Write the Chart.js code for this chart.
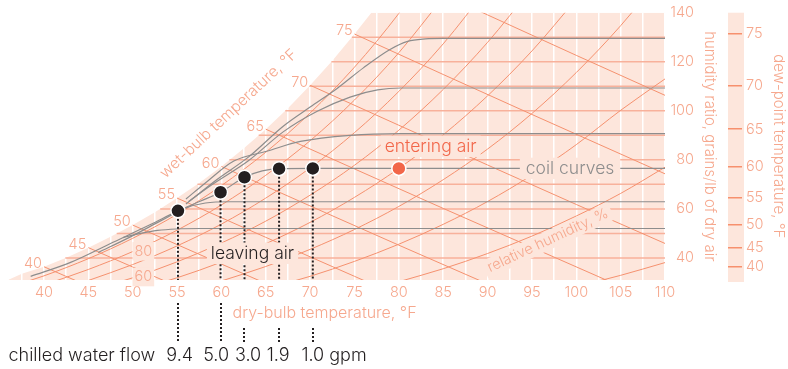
<!DOCTYPE html>
<html><head><meta charset="utf-8">
<script src="https://cdn.jsdelivr.net/npm/chart.js@4.4.1/dist/chart.umd.min.js"></script>
<style>html,body{margin:0;padding:0;background:#fff}#wrap{width:788px;height:369px;position:relative}</style>
</head><body><div id="wrap"><canvas id="c"></canvas></div>
<script>
// ---------------- data ----------------
const dryBulbGrid = [37.5,40,42.5,45,47.5,50,52.5,55,57.5,60,62.5,65,67.5,70,72.5,75,77.5,80,82.5,85,87.5,90,92.5,95,97.5,100,102.5,105,107.5,110];
const humidityTicks = [40,60,80,100,120,140];
const dewPointLabels = [40,45,50,55,60,65,70,75];
const dewPointHumidity = [36.4,44.2,53.4,64.4,77.3,92.5,110.4,131.3];
const wetBulbLabels = [40,45,50,55,60,65,70,75];

const saturationT = [36,37.5,40,42.5,45,47.5,50,52.5,55,57.5,60,62.5,65,67.5,70,72.5,75,76.9];
const saturationW = [31.1,33.5,36.4,40.1,44.2,48.6,53.4,58.6,64.4,70.6,77.3,84.6,92.5,101.0,110.4,120.4,131.3,140];

const rhTemps = [36,40,45,50,55,60,65,70,75,80,85,90,95,100,105,110];
const rh90 = [28.0,32.7,39.7,48.0,57.8,69.5,83.1,99.1,117.8,139.7,165.1,null,null,null,null,null];
const rh80 = [null,29.0,35.3,42.6,51.3,61.6,73.7,87.8,104.4,123.7,146.2,null,null,null,null,null];
const rh70 = [null,null,30.8,37.3,44.9,53.8,64.4,76.7,91.1,107.9,127.3,150.0,null,null,null,null];
const rh60 = [null,null,26.4,31.9,38.4,46.1,55.0,65.6,77.8,92.1,108.7,127.9,150.1,null,null,null];
const rh50 = [null,null,null,26.5,31.9,38.3,45.8,54.5,64.7,76.5,90.2,106.1,124.4,145.5,null,null];
const rh40 = [null,null,null,null,null,30.6,36.5,43.5,51.6,61.0,71.9,84.4,98.9,115.6,134.7,156.7];
const rh30 = [null,null,null,null,null,null,27.4,32.5,38.6,45.6,53.7,63.0,73.8,86.2,100.2,113.0];
const rh20 = [null,null,null,null,null,null,null,null,null,30.3,35.6,41.8,48.9,57.1,66.3,77.0];
const rh10 = [null,null,null,null,null,null,null,null,null,null,null,null,null,28.3,32.9,38.1];

const wetBulb40 = [[40,36.4],[44,30.1]];
const wetBulb45 = [[45,44.2],[50,36.3],[55,28.4]];
const wetBulb50 = [[50,53.4],[60,37.5],[65,29.6]];
const wetBulb55 = [[55,64.4],[65,48.4],[75,32.5],[77,29.3]];
const wetBulb60 = [[60,77.3],[70,61.2],[80,45.2],[90,29.4]];
const wetBulb65 = [[65,92.5],[75,76.3],[85,60.2],[95,44.3],[105,28.4]];
const wetBulb70 = [[70,110.4],[80,94.1],[90,77.9],[100,61.8],[110,45.9]];
const wetBulb75 = [[75,131.3],[85,114.8],[95,98.5],[110,74.3]];
const wetBulb80 = [[80,155.7],[90,139.1],[100,122.6],[110,106.3]];

const gridW = [40,50,60,70,80,90,100,110,120,130];
const gridStartT = [42.4,48.2,53.1,57.3,60.9,64.2,67.2,69.9,72.4,74.7];

const coil1 = [[48.9,48.3],[50.9,50.0],[52.8,51.2],[54.9,51.8],[57.7,52.0],[110,52.0]];
const coil2 = [[46.1,42.2],[49.8,48.7],[53.2,55.2],[56.0,60.4],[58.2,62.4],[61.0,62.9],[110,62.9]];
const coil4 = [[38.5,32.5],[43.0,38.2],[47.5,45.9],[52.0,53.6],[55.1,59.2],[57.6,63.1],[59.9,66.8],[62.6,72.9],[64.6,75.5],[66.5,76.4],[70.3,76.5],[110,76.5]];
const coil5 = [[56.0,64.0],[58.5,71.5],[61.4,79.5],[65.2,83.6],[68.9,87.5],[74.5,90.0],[80.2,90.7],[110,90.7]];
const coil6 = [[56.3,63.0],[59.0,70.0],[63.0,79.5],[67.0,91.5],[70.8,99.8],[74.5,105.6],[77.6,108.5],[80.2,109.3],[110,109.3]];
const coil7 = [[56.0,62.0],[59.5,72.0],[63.0,81.0],[67.0,93.8],[70.0,101.5],[73.0,109.0],[76.0,117.5],[79.0,125.0],[81.0,128.3],[83.0,129.3],[85.0,129.5],[110,129.5]];

const leavingT = [55.1,59.9,62.6,66.5,70.3];
const leavingW = [59.2,66.8,72.9,76.4,76.5];
const flowLabels = ['9.4','5.0','3.0','1.9','1.0'];
const flowLabelT = [55.3,59.4,63.0,66.4,70.3];
const enteringT = [80.0];
const enteringW = [76.5];

// ---------------- style ----------------
const PINK='#fde6dc', SALMON='#f5916f', HLINE='#f8b19b', TXT='#f6a88e', GRAY='#8d8d8d', INK='#231f20', ORANGE='#f26649';
const FF = 'Inter, Roboto, "Liberation Sans", Arial, sans-serif';
const XMIN=36, XMAX=110, YMIN=31, YMAX=140;

const pairs = a => a.map(([x,y]) => ({x,y}));
const rhPts = v => rhTemps.map((t,i) => v[i]==null ? null : {x:t,y:v[i]}).filter(Boolean);
const lineDs = (data, color, width, extra={}) => Object.assign({data, showLine:true, borderColor:color, borderWidth:width, pointRadius:0, fill:false, tension:0}, extra);

const datasets = [];
datasets.push({data: leavingT.map((t,i)=>({x:t,y:leavingW[i]})), showLine:false, pointRadius:7, pointBackgroundColor:INK, pointBorderColor:'#fff', pointBorderWidth:1.5, order:0});
datasets.push({data: enteringT.map((t,i)=>({x:t,y:enteringW[i]})), showLine:false, pointRadius:7, pointBackgroundColor:ORANGE, pointBorderColor:'#fff', pointBorderWidth:1.5, order:0});
leavingT.forEach((t,i)=> datasets.push(lineDs([{x:t,y:leavingW[i]},{x:t,y:YMIN}], INK, 2, {borderDash:[2,2], order:1})));
[coil1,coil2,coil4,coil5,coil6,coil7].forEach(c => datasets.push(lineDs(pairs(c), GRAY, 1.2, {cubicInterpolationMode:'monotone', order:2})));
[rh90,rh80,rh70,rh60,rh50,rh40,rh30,rh20,rh10].forEach(r => datasets.push(lineDs(rhPts(r), SALMON, 1, {cubicInterpolationMode:'monotone', order:3})));
[wetBulb40,wetBulb45,wetBulb50,wetBulb55,wetBulb60,wetBulb65,wetBulb70,wetBulb75,wetBulb80].forEach(w => datasets.push(lineDs(pairs(w), SALMON, 1, {order:3})));
gridW.forEach((w,i) => datasets.push(lineDs([{x:gridStartT[i],y:w},{x:XMAX,y:w}], HLINE, 1.5, {order:4})));

function label(ctx, text, px, py, o) {
  ctx.save();
  ctx.translate(px, py); ctx.rotate(o.rot || 0);
  ctx.font = o.font; ctx.textBaseline = 'middle'; ctx.textAlign = o.align || 'center';
  const w = ctx.measureText(text).width;
  const size = parseFloat(o.font.match(/(\d+(?:\.\d+)?)px/)[1]);
  if (o.bg) {
    const a = o.align || 'center';
    const x0 = a==='center' ? -w/2 : a==='right' ? -w : 0;
    const px2 = o.padX==null ? 4 : o.padX;
    ctx.fillStyle = o.bg; ctx.fillRect(x0-px2, -size/2-2, w+2*px2, size+4);
  }
  ctx.fillStyle = o.color; ctx.fillText(text, 0, 0);
  ctx.restore();
  return w;
}

const bgPlugin = {
  id:'bgfill',
  beforeDraw(chart){
    const {ctx, chartArea:a, scales:{x,y,yDew}} = chart;
    ctx.save();
    ctx.beginPath(); ctx.rect(a.left, a.top, a.right-a.left, a.bottom-a.top); ctx.clip();
    ctx.fillStyle = PINK;
    ctx.beginPath();
    saturationT.forEach((t,i)=>{ const px=x.getPixelForValue(t), py=y.getPixelForValue(saturationW[i]); i?ctx.lineTo(px,py):ctx.moveTo(px,py); });
    ctx.lineTo(a.right, a.top); ctx.lineTo(a.right, a.bottom); ctx.lineTo(a.left, a.bottom); ctx.closePath(); ctx.fill();
    ctx.restore();
    ctx.fillStyle = PINK;
    ctx.fillRect(yDew.left, a.top, 16, a.bottom - a.top + 2);
  }
};

const W = '300 ';
const textPlugin = {
  id:'texts',
  afterDatasetsDraw(chart){
    const {ctx, scales:{x,y}} = chart;
    const f15 = W+'14.5px '+FF, f16 = W+'15.5px '+FF, f17 = W+'17.5px '+FF;
    wetBulbLabels.forEach((t,i)=> label(ctx, String(t), x.getPixelForValue(t)-2, y.getPixelForValue(dewPointHumidity[i])-3, {font:f15, color:TXT, align:'right'}));
    label(ctx, '80', x.getPixelForValue(51.2), y.getPixelForValue(42.7), {font:f15, color:TXT, bg:PINK, padX:2});
    label(ctx, '60', x.getPixelForValue(51.2), y.getPixelForValue(32.2), {font:f15, color:TXT, bg:PINK, padX:2});
    label(ctx, 'wet-bulb temperature, °F', x.getPixelForValue(60.8), y.getPixelForValue(98.8), {font:f16, color:TXT, rot:-43*Math.PI/180});
    label(ctx, 'relative humidity, %', x.getPixelForValue(96.8), y.getPixelForValue(47.1), {font:f15, color:TXT, bg:PINK, rot:-25*Math.PI/180});
    label(ctx, 'leaving air', x.getPixelForValue(63.5), y.getPixelForValue(41.9), {font:f17, color:INK, bg:PINK});
    label(ctx, 'entering air', x.getPixelForValue(78.4), y.getPixelForValue(85.5), {font:f17, color:ORANGE, bg:PINK, align:'left'});
    label(ctx, 'coil curves', x.getPixelForValue(99.3), y.getPixelForValue(76.5), {font:f17, color:GRAY, bg:PINK, padX:6});
  },
  afterDraw(chart){
    const {ctx, chartArea:a, scales:{x}} = chart;
    const f16 = W+'16px '+FF, f18 = W+'18px '+FF;
    label(ctx, 'dry-bulb temperature, °F', x.getPixelForValue(61.25), a.bottom+33, {font:f16, color:TXT, align:'left'});
    ctx.save(); ctx.strokeStyle = INK; ctx.lineWidth = 2; ctx.setLineDash([2,2]);
    leavingT.forEach((t,i)=>{
      const px = Math.round(x.getPixelForValue(t));
      const y0 = i < 2 ? a.bottom+23 : a.bottom+48;
      ctx.beginPath(); ctx.moveTo(px, y0); ctx.lineTo(px, a.bottom+62); ctx.stroke();
    });
    ctx.restore();
    const yb = a.bottom + 76;
    label(ctx, 'chilled water flow', a.left, yb, {font:f18, color:INK, align:'left'});
    flowLabelT.forEach((t,i)=>{
      const px = x.getPixelForValue(t);
      const w = label(ctx, flowLabels[i], px, yb, {font:f18, color:INK});
      if (i === flowLabelT.length-1) label(ctx, ' gpm', px + w/2, yb, {font:f18, color:INK, align:'left'});
    });
  }
};

const tickFont = {family:FF, size:14.5, weight:'300'};
new Chart(document.getElementById('c'), {
  type:'scatter',
  data:{datasets},
  options:{
    responsive:true, maintainAspectRatio:false, animation:false, events:[],
    layout:{padding:{left:8, top:10, right:0, bottom:0}},
    plugins:{legend:{display:false}, tooltip:{enabled:false}},
    scales:{
      x:{type:'linear', min:XMIN, max:XMAX, position:'bottom',
         afterBuildTicks: s => { s.ticks = dryBulbGrid.map(v=>({value:v})); },
         afterFit: s => { s.height = 89; },
         grid:{color:'#ffffff', lineWidth:1.5, drawTicks:false},
         border:{display:false},
         ticks:{autoSkip:false, maxRotation:0, padding:4, color:TXT, font:tickFont,
                callback: v => (v % 5 === 0 ? String(v) : '')}},
      y:{type:'linear', min:YMIN, max:YMAX, position:'right',
         afterBuildTicks: s => { s.ticks = humidityTicks.map(v=>({value:v})); },
         afterFit: s => { s.width = 29; },
         grid:{display:false}, border:{display:false},
         ticks:{autoSkip:false, padding:0, crossAlign:'far', color:TXT, font:tickFont}},
      yTitle:{type:'linear', min:YMIN, max:YMAX, position:'right',
         afterFit: s => { s.width = 34; },
         grid:{display:false}, border:{display:false},
         ticks:{display:false},
         title:{display:true, text:'humidity ratio, grains/lb of dry air', color:TXT, font:{family:FF, size:15, weight:'300'}, padding:{top:9, bottom:0}}},
      yDew:{type:'linear', min:YMIN, max:YMAX, position:'right',
         afterBuildTicks: s => { s.ticks = dewPointHumidity.map(v=>({value:v})); },
         afterFit: s => { s.width = 60; },
         grid:{drawOnChartArea:false, drawTicks:true, tickLength:14, color:'#f7906d', lineWidth:1.5},
         border:{display:false},
         ticks:{autoSkip:false, padding:4, color:TXT, font:tickFont,
                callback:(v,i) => String(dewPointLabels[i])},
         title:{display:true, text:'dew-point temperature, °F', color:TXT, font:{family:FF, size:15, weight:'300'}, padding:{top:0, bottom:0}}}
    }
  },
  plugins:[bgPlugin, textPlugin]
});
</script></body></html>
